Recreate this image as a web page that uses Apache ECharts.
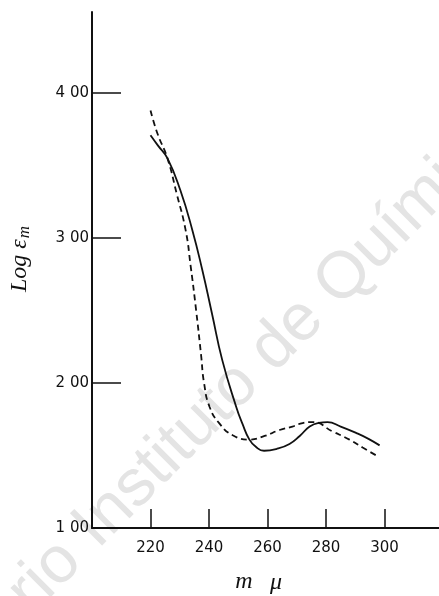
<!DOCTYPE html>
<html>
<head>
<meta charset="utf-8">
<script src="https://cdn.jsdelivr.net/npm/echarts@6/dist/echarts.min.js"></script>
<style>
html, body { margin: 0; padding: 0; background: #fff; }
#chart { width: 439px; height: 596px; }
</style>
</head>
<body>
<div id="chart"></div>
<script>
// solid curve
const solidWl = [220, 222.5, 225.8, 230.2, 234.3, 237.7, 241, 244.5, 249.3, 251.4, 253.8, 256, 258.8, 263, 267.5, 271, 274.4, 277.5, 280.5, 285, 290.4, 294.5, 298.3];
const solidLogE = [3.71, 3.64, 3.55, 3.33, 3.055, 2.78, 2.48, 2.16, 1.835, 1.72, 1.61, 1.56, 1.533, 1.545, 1.58, 1.635, 1.70, 1.725, 1.73, 1.70, 1.655, 1.615, 1.57];
// dashed curve
const dashWl = [220, 222.4, 225.8, 228.9, 232, 233.7, 235.6, 237.3, 238.3, 240.2, 243.6, 248.1, 253.8, 259, 264.1, 268.5, 272, 275.4, 282.3, 288, 292.5, 297.2];
const dashLogE = [3.88, 3.72, 3.55, 3.31, 3.055, 2.81, 2.50, 2.19, 2.00, 1.835, 1.72, 1.64, 1.61, 1.635, 1.676, 1.70, 1.724, 1.731, 1.665, 1.61, 1.555, 1.50];

const xTicks = [220, 240, 260, 280, 300];
const yTicks = [1, 2, 3, 4];

const zip = (xs, ys) => xs.map((x, i) => [x, ys[i]]);

const myChart = echarts.init(document.getElementById('chart'));

const watermark = (text, x, y, align) => ({
    type: 'text',
    z: -1,
    x: x,
    y: y,
    rotation: Math.PI / 4,
    style: {
        text: text,
        x: 0, y: 0,
        align: align,
        verticalAlign: 'middle',
        fill: '#e4e4e4',
        font: '66px "Liberation Sans"'
    }
});

const option = {
    backgroundColor: '#fff',
    animation: false,
    grid: {
        left: 92,
        right: 0,
        top: 12,
        bottom: 68,
        outerBoundsMode: 'none'
    },
    xAxis: {
        type: 'value',
        min: 200,
        max: 318.6,
        axisLine: { lineStyle: { color: '#111', width: 2 } },
        axisTick: {
            inside: true,
            length: 19,
            customValues: xTicks,
            lineStyle: { color: '#111', width: 1.5 }
        },
        axisLabel: {
            customValues: xTicks,
            margin: 13,
            color: '#111',
            fontSize: 15,
            fontFamily: 'DejaVu Sans'
        },
        splitLine: { show: false }
    },
    yAxis: {
        type: 'value',
        min: 1,
        max: 4.56,
        axisLine: { show: true, lineStyle: { color: '#111', width: 2 } },
        axisTick: {
            show: true,
            inside: true,
            length: 29,
            customValues: yTicks,
            lineStyle: { color: '#111', width: 1.5 }
        },
        axisLabel: {
            customValues: yTicks,
            margin: 3,
            color: '#111',
            fontSize: 15,
            fontFamily: 'DejaVu Sans',
            formatter: v => v.toFixed(2).replace('.', ' ')
        },
        splitLine: { show: false }
    },
    graphic: [
        watermark('Repositorio', 71, 551, 'right'),
        watermark('Instituto de Química', 85, 537, 'left'),
        {
            type: 'text',
            x: 20,
            y: 259,
            rotation: Math.PI / 2,
            style: {
                text: '{a|Log ε}{b|m}',
                align: 'center',
                verticalAlign: 'middle',
                rich: {
                    a: { fontSize: 24, fontStyle: 'italic', fontFamily: 'Liberation Serif', fill: '#111' },
                    b: { fontSize: 17, fontStyle: 'italic', fontFamily: 'Liberation Serif', fill: '#111', padding: [9, 0, 0, 1] }
                }
            }
        },
        {
            type: 'text',
            x: 244,
            y: 582,
            style: {
                text: 'm',
                align: 'center',
                verticalAlign: 'middle',
                fill: '#111',
                font: 'italic 24px "Liberation Serif"'
            }
        },
        {
            type: 'text',
            x: 276,
            y: 583,
            style: {
                text: 'μ',
                align: 'center',
                verticalAlign: 'middle',
                fill: '#111',
                font: 'italic 24px "Liberation Serif"'
            }
        }
    ],
    series: [
        {
            name: 'solid',
            type: 'line',
            smooth: true,
            symbol: 'none',
            lineStyle: { color: '#111', width: 1.8 },
            data: zip(solidWl, solidLogE)
        },
        {
            name: 'dashed',
            type: 'line',
            smooth: true,
            symbol: 'none',
            lineStyle: { color: '#111', width: 1.8, type: [6, 4] },
            data: zip(dashWl, dashLogE)
        }
    ]
};

myChart.setOption(option);
</script>
</body>
</html>
